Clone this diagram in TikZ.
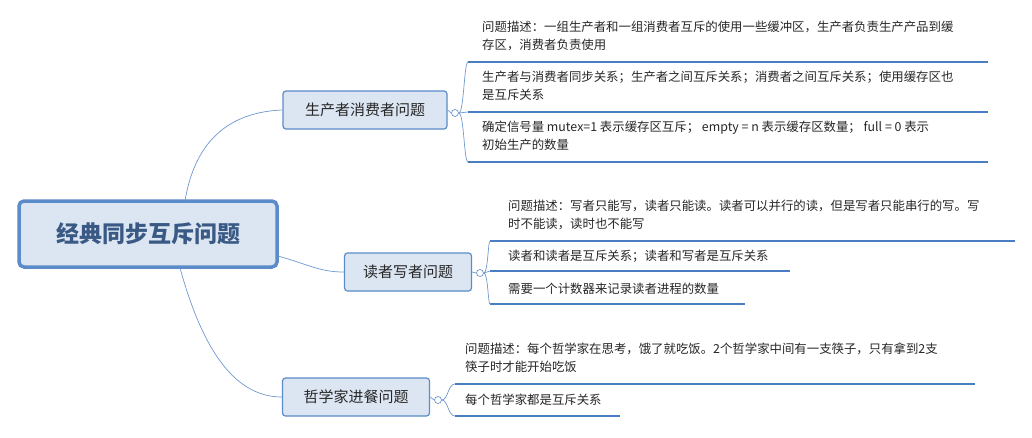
\documentclass[tikz,border=0pt]{standalone}
\usepackage{fontspec}
\setmainfont{Noto Sans CJK SC}
\definecolor{bd}{HTML}{5B8BC9}
\definecolor{fl}{HTML}{DCE6F2}
\definecolor{ln}{HTML}{6F98CF}
\definecolor{ulc}{HTML}{4A7EC2}
\definecolor{rt}{HTML}{3A5A85}
\begin{document}
\begin{tikzpicture}[x=1pt,y=-1pt,
  conn/.style={draw=ln, line width=0.7pt},
  ul/.style={draw=ulc, line width=1.6pt},
  branch/.style={draw=bd, line width=1.2pt, fill=fl, rounded corners=3pt, minimum height=38pt, font=\fontsize{15}{17}\selectfont, text=black!85},
  leaf/.style={anchor=north west, align=left, inner sep=0pt, font=\fontsize{12.4}{18}\selectfont, text=black!85},
  tog/.style={circle, draw=bd, fill=white, minimum size=7pt, inner sep=0pt, line width=0.6pt}]
\useasboundingbox (0,0) rectangle (1032,437);
\node[draw=bd, line width=3.5pt, fill=fl, rounded corners=5pt, minimum width=258pt, minimum height=66pt, font=\fontsize{23}{26}\selectfont\bfseries, text=rt] (root) at (148,234) {经典同步互斥问题};
\node[branch, minimum width=164pt] (b1) at (365,110) {生产者消费者问题};
\node[branch, minimum width=127pt] (b2) at (408,272) {读者写者问题};
\node[branch, minimum width=147pt] (b3) at (356,397) {哲学家进餐问题};
\coordinate (r1) at (185,201);
\coordinate (r2) at (278,256);
\coordinate (r3) at (180,268);
\draw[conn] (r1) .. controls (195,140) and (230,112) .. (b1.west);
\draw[conn] (r2) .. controls (310,265) and (320,272) .. (b2.west);
\draw[conn] (r3) .. controls (200,340) and (230,397) .. (b3.west);
% toggles
\node[tog] (t1) at (455,113) {};
\node[tog] (t2) at (480,273) {};
\node[tog] (t3) at (438,400) {};
\draw[conn] (b1.east) -- (t1.west);
\draw[conn] (b2.east) -- (t2.west);
\draw[conn] (b3.east) -- (t3.west);
% branch 1 leaves
\coordinate (u11) at (468,62); \coordinate (u11e) at (988,62);
\coordinate (u12) at (468,112); \coordinate (u12e) at (988,112);
\coordinate (u13) at (468,162); \coordinate (u13e) at (988,162);
\node[leaf] (l11) at (482,21) {问题描述：一组生产者和一组消费者互斥的使用一些缓冲区，生产者负责生产产品到缓\\存区，消费者负责使用};
\node[leaf] (l12) at (482,71) {生产者与消费者同步关系；生产者之间互斥关系；消费者之间互斥关系；使用缓存区也\\是互斥关系};
\node[leaf] (l13) at (482,121) {确定信号量 mutex=1 表示缓存区互斥； empty = n 表示缓存区数量； full = 0 表示\\初始生产的数量};
\draw[ul] (u11) -- (u11e); \draw[ul] (u12) -- (u12e); \draw[ul] (u13) -- (u13e);
\draw[conn] (t1.east) .. controls (464,113) and (464,62) .. (u11);
\draw[conn] (t1.east) -- (u12);
\draw[conn] (t1.east) .. controls (464,113) and (464,162) .. (u13);
% branch 2 leaves
\coordinate (u21) at (490,241); \coordinate (u21e) at (1015,241);
\coordinate (u22) at (490,271); \coordinate (u22e) at (790,271);
\coordinate (u23) at (490,304); \coordinate (u23e) at (745,304);
\node[leaf] (l21) at (508,200) {问题描述：写者只能写，读者只能读。读者可以并行的读，但是写者只能串行的写。写\\时不能读，读时也不能写};
\node[leaf] (l22) at (508,250) {读者和读者是互斥关系；读者和写者是互斥关系};
\node[leaf] (l23) at (508,283) {需要一个计数器来记录读者进程的数量};
\draw[ul] (u21) -- (u21e); \draw[ul] (u22) -- (u22e); \draw[ul] (u23) -- (u23e);
\draw[conn] (t2.east) .. controls (488,273) and (488,241) .. (u21);
\draw[conn] (t2.east) -- (u22);
\draw[conn] (t2.east) .. controls (488,273) and (488,304) .. (u23);
% branch 3 leaves
\coordinate (u31) at (455,384); \coordinate (u31e) at (975,384);
\coordinate (u32) at (455,416); \coordinate (u32e) at (620,416);
\node[leaf] (l31) at (465,343) {问题描述：每个哲学家在思考，饿了就吃饭。2个哲学家中间有一支筷子，只有拿到2支\\筷子时才能开始吃饭};
\node[leaf] (l32) at (465,394) {每个哲学家都是互斥关系};
\draw[ul] (u31) -- (u31e); \draw[ul] (u32) -- (u32e);
\draw[conn] (t3.east) .. controls (448,400) and (448,384) .. (u31);
\draw[conn] (t3.east) .. controls (448,400) and (448,416) .. (u32);
\end{tikzpicture}
\end{document}
